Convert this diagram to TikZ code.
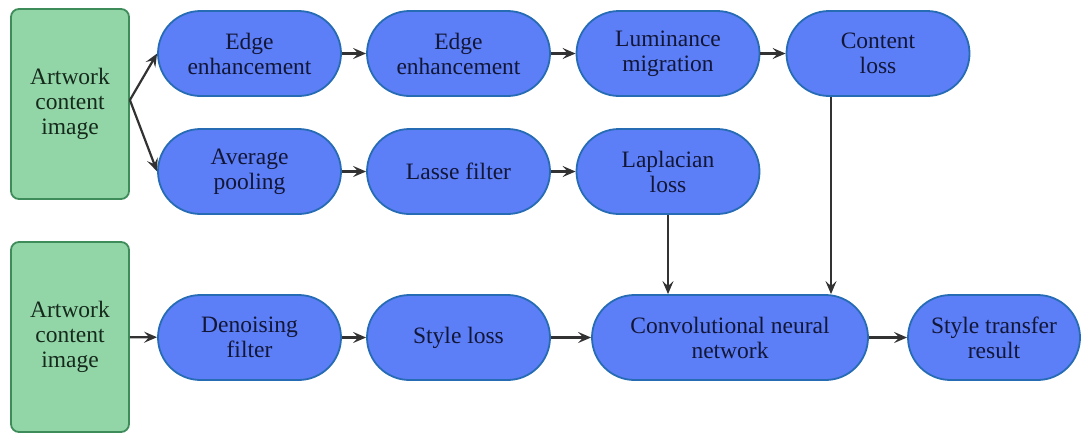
\documentclass[tikz,border=0pt]{standalone}
\usepackage{fontspec}
\setmainfont{Liberation Serif}
\usetikzlibrary{arrows.meta,calc}
\definecolor{pillfill}{RGB}{92,126,246}
\definecolor{pilldraw}{RGB}{38,108,180}
\definecolor{pilltext}{RGB}{18,22,55}
\definecolor{greenfill}{RGB}{146,214,168}
\definecolor{greendraw}{RGB}{62,140,90}
\definecolor{greentext}{RGB}{22,42,28}
\definecolor{arrowcol}{RGB}{50,50,50}
\tikzset{
  pill/.style={draw=pilldraw, fill=pillfill, line width=1.8pt, rounded corners=42.5pt,
    minimum height=85pt, minimum width=183pt, align=center, text=pilltext,
    font=\fontsize{23.5}{25}\selectfont, inner sep=0pt},
  srcbox/.style={draw=greendraw, fill=greenfill, line width=1.8pt, rounded corners=8pt,
    minimum width=118pt, minimum height=190pt, align=center, text=greentext,
    font=\fontsize{23.5}{25}\selectfont, inner sep=0pt},
  conn/.style={draw=arrowcol, line width=2.2pt, -{Stealth[length=13pt,width=11pt,inset=5pt]}}
}
\begin{document}
\begin{tikzpicture}[x=1pt,y=-1pt]
\useasboundingbox (0,0) rectangle (1081,434);
\node[srcbox] (src1) at (70,104) {Artwork\\content\\image};
\node[srcbox] (src2) at (70,337) {Artwork\\content\\image};
\node[pill] (ee1) at (249.5,53.5) {Edge\\enhancement};
\node[pill] (ee2) at (458.5,53.5) {Edge\\enhancement};
\node[pill] (lum) at (668,53.5) {Luminance\\migration};
\node[pill] (content) at (878,53.5) {Content\\loss};
\node[pill] (avg) at (249.5,171.5) {Average\\pooling};
\node[pill] (lasse) at (458.5,171.5) {Lasse filter};
\node[pill] (lap) at (668,171.5) {Laplacian\\loss};
\node[pill] (den) at (249.5,337.5) {Denoising\\filter};
\node[pill] (style) at (458.5,337.5) {Style loss};
\node[pill, minimum width=276pt] (cnn) at (730,337.5) {Convolutional neural\\network};
\node[pill, minimum width=172pt] (result) at (994,337.5) {Style transfer\\result};
\coordinate (fork) at ($(src1.east)+(0,-4)$);
\draw[conn] (fork) -- (ee1.west);
\draw[conn] (fork) -- (avg.west);
\draw[conn] (ee1) -- (ee2);
\draw[conn] (ee2) -- (lum);
\draw[conn] (lum) -- (content);
\draw[conn] (avg) -- (lasse);
\draw[conn] (lasse) -- (lap);
\draw[conn] (src2) -- (den);
\draw[conn] (den) -- (style);
\draw[conn] (style) -- (cnn);
\draw[conn] (cnn) -- (result);
\draw[conn] (lap.south) -- (lap.south |- cnn.north);
\coordinate (cdown) at ($(content.south)+(-47,0)$);
\draw[conn] (cdown) -- (cdown |- cnn.north);
\end{tikzpicture}
\end{document}
